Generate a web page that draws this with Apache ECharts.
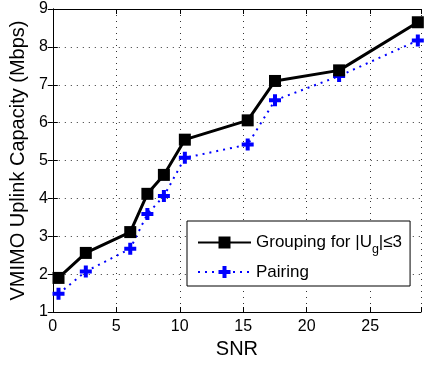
<!DOCTYPE html>
<html><head><meta charset="utf-8">
<script src="https://cdn.jsdelivr.net/npm/echarts@6/dist/echarts.min.js"></script>
<style>html,body{margin:0;padding:0;background:#fff}#c{width:424px;height:367px}</style>
</head><body><div id="c"></div>
<script>
const snr = [0.45, 2.6, 6.1, 7.45, 8.75, 10.4, 15.35, 17.5, 22.55, 28.75];
const groupCap = [1.90, 2.56, 3.11, 4.12, 4.62, 5.55, 6.06, 7.10, 7.38, 8.65];
const pairCap = [1.48, 2.07, 2.67, 3.59, 4.06, 5.07, 5.42, 6.59, 7.23, 8.17];
const seriesNames = ['Grouping for |Ug|≤3', 'Pairing'];
const xTicks = [0, 5, 10, 15, 20, 25];
const yTicks = [1, 2, 3, 4, 5, 6, 7, 8, 9];

const FONT = 'Liberation Sans, Arial, sans-serif';
const chart = echarts.init(document.getElementById('c'), null, {renderer: 'canvas'});
const plus = 'path://M4,0H8V4H12V8H8V12H4V8H0V4H4Z';
const tickStyle = {show: true, inside: true, length: 5, lineStyle: {color: '#000', width: 1}};
const grid = {left: 51, top: 9, right: 0, bottom: 55, containLabel: false};
chart.setOption({
  animation: false,
  backgroundColor: '#fff',
  grid: grid,
  xAxis: [{
    type: 'value', min: 0, max: 29, interval: 5,
    name: 'SNR', nameLocation: 'middle', nameGap: 24,
    nameTextStyle: {fontFamily: FONT, fontSize: 20, color: '#000'},
    axisLine: {show: true, lineStyle: {color: '#000', width: 1}},
    axisTick: tickStyle,
    axisLabel: {fontFamily: FONT, fontSize: 16, color: '#000', margin: 7,
      formatter: v => xTicks.includes(v) ? String(v) : ''},
    splitLine: {show: true, lineStyle: {color: '#333', width: 1, type: [1, 5]}}
  }, {
    type: 'value', min: 0, max: 29, interval: 5, position: 'top',
    axisLine: {show: true, lineStyle: {color: '#000', width: 1}},
    axisTick: tickStyle, axisLabel: {show: false}, splitLine: {show: false}
  }],
  yAxis: [{
    type: 'value', min: 1, max: 9, interval: 1,
    name: 'VMIMO Uplink Capacity (Mbps)', nameLocation: 'middle', nameGap: 23,
    nameTextStyle: {fontFamily: FONT, fontSize: 20, color: '#000'},
    axisLine: {show: true, lineStyle: {color: '#000', width: 1}},
    axisTick: tickStyle,
    axisLabel: {fontFamily: FONT, fontSize: 16, color: '#000', margin: 5,
      formatter: v => yTicks.includes(v) ? String(v) : ''},
    splitLine: {show: true, lineStyle: {color: '#333', width: 1, type: [1, 5]}}
  }, {
    type: 'value', min: 1, max: 9, interval: 1, position: 'right',
    axisLine: {show: true, lineStyle: {color: '#000', width: 1}},
    axisTick: tickStyle, axisLabel: {show: false}, splitLine: {show: false}
  }],
  legend: {
    orient: 'vertical', left: 187, top: 221,
    padding: [8, 8, 3, 10], itemGap: 5,
    itemWidth: 53, itemHeight: 15, itemStyle: {},
    borderColor: '#000', borderWidth: 1, backgroundColor: '#fff', borderRadius: 0,
    data: seriesNames,
    textStyle: {fontFamily: FONT, fontSize: 17, color: '#000', lineHeight: 22,
      rich: {
        m: {fontFamily: FONT, fontSize: 17, color: '#000', lineHeight: 22},
        s: {fontFamily: FONT, fontSize: 12.5, color: '#000', lineHeight: 22, padding: [14, 0, 0, 0]}
      }},
    formatter: n => n === seriesNames[0] ? '{m|Grouping for |U}{s|g}{m||≤3}' : n
  },
  series: [{
    name: seriesNames[0], type: 'line',
    data: snr.map((x, i) => [x, groupCap[i]]),
    symbol: 'rect', symbolSize: 12,
    lineStyle: {color: '#000', width: 3},
    itemStyle: {color: '#000'},
    z: 3
  }, {
    name: seriesNames[1], type: 'line',
    data: snr.map((x, i) => [x, pairCap[i]]),
    symbol: plus, symbolSize: 12,
    lineStyle: {color: '#0000ff', width: 2, type: [2, 5]},
    itemStyle: {color: '#0000ff'},
    z: 2
  }]
});
</script></body></html>
